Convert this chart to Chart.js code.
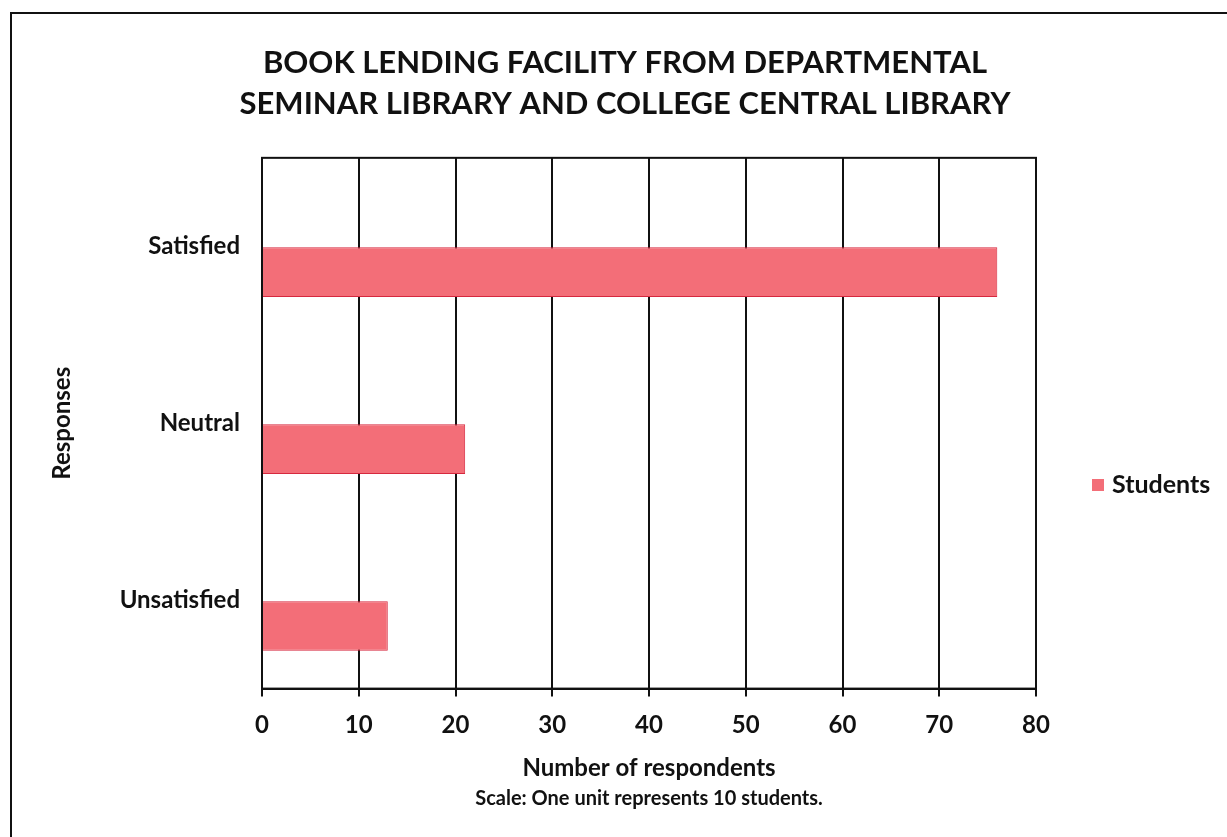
<!DOCTYPE html>
<html>
<head>
<meta charset="utf-8">
<script src="https://cdn.jsdelivr.net/npm/chart.js@4"></script>
<style>
    html, body { margin: 0; padding: 0; background: #fff; }
    #wrap { position: relative; width: 1227px; height: 837px; }
    #frame { position: absolute; left: 10px; top: 12px; width: 1240px; height: 840px;
             border-left: 2px solid #111; border-top: 2px solid #111; pointer-events: none; }
</style>
</head>
<body>
<div id="wrap">
    <canvas id="lendingChart" width="1227" height="837"></canvas>
    <div id="frame"></div>
</div>
<script>
// Book lending facility survey - horizontal bar chart

const responses = ['Satisfied', 'Neutral', 'Unsatisfied'];
const students = [76, 21, 13];
const seriesName = 'Students';
const xTicks = [0, 10, 20, 30, 40, 50, 60, 70, 80];

const FONT = 'Lato, "Open Sans", sans-serif';
const barFill = 'rgb(243, 110, 120)';
const barEdge = 'rgb(214, 40, 62)';

// draws the full box round the plot area
const plotBox = {
    id: 'plotBox',
    afterDatasetsDraw(chart) {
        const a = chart.chartArea;
        const ctx = chart.ctx;
        ctx.save();
        ctx.strokeStyle = '#111';
        ctx.lineWidth = 2;
        ctx.strokeRect(a.left, a.top, a.right - a.left, a.bottom - a.top);
        ctx.restore();
    }
};

// legend sits lower than chart centre in the original, so draw it by hand
const sideLegend = {
    id: 'sideLegend',
    afterDraw(chart) {
        const ctx = chart.ctx;
        const ds = chart.data.datasets.find(d => d.label === seriesName);
        const x = chart.chartArea.right + 56;
        const y = 485;
        ctx.save();
        ctx.fillStyle = ds.backgroundColor;
        ctx.fillRect(x, y - 6, 12, 12);
        ctx.fillStyle = '#111';
        ctx.font = 'bold 25px ' + FONT;
        ctx.textBaseline = 'middle';
        ctx.fillText(ds.label, x + 20, y);
        ctx.restore();
    }
};

const ctx = document.getElementById('lendingChart');
new Chart(ctx.getContext('2d'), {
    type: 'bar',
    data: {
        labels: responses,
        datasets: [
            {
                // empty spacer series: the original leaves an empty slot above each bar
                label: '',
                data: [],
                categoryPercentage: 0.585,
                barPercentage: 0.96
            },
            {
                label: seriesName,
                data: students,
                backgroundColor: barFill,
                borderColor: barEdge,
                borderWidth: 1,
                categoryPercentage: 0.585,
                barPercentage: 0.96
            }
        ]
    },
    options: {
        indexAxis: 'y',
        responsive: false,
        animation: false,
        layout: {
            padding: { left: 40, right: 17, top: 0, bottom: 26 }
        },
        scales: {
            x: {
                min: 0,
                max: 80,
                afterBuildTicks(scale) {
                    scale.ticks = xTicks.map(v => ({ value: v }));
                },
                grid: {
                    color: '#111',
                    lineWidth: 2,
                    tickLength: 8
                },
                border: { color: '#111', width: 2 },
                ticks: {
                    color: '#111',
                    padding: 17,
                    font: { family: FONT, size: 24, weight: 'bold', lineHeight: 1.0 }
                },
                title: {
                    display: true,
                    text: 'Number of respondents',
                    color: '#111',
                    padding: { top: 0, bottom: 6 },
                    font: { family: FONT, size: 24, weight: 'bold', lineHeight: 1.1 }
                }
            },
            y: {
                afterFit(scale) {
                    scale.width = 222;
                },
                grid: { display: false, drawTicks: false },
                border: { color: '#111', width: 2 },
                ticks: {
                    color: '#111',
                    padding: 22,
                    font: { family: FONT, size: 24, weight: 'bold' }
                },
                title: {
                    display: true,
                    text: 'Responses',
                    color: '#111',
                    padding: { top: 8, bottom: 0 },
                    font: { family: FONT, size: 24, weight: 'bold' }
                }
            },
            // keeps room on the right for the legend
            yRoom: {
                type: 'category',
                position: 'right',
                afterFit(scale) {
                    scale.width = 174;
                },
                grid: { display: false },
                border: { display: false },
                ticks: { display: false }
            }
        },
        plugins: {
            legend: { display: false },
            tooltip: { enabled: false },
            title: {
                display: true,
                text: ['BOOK LENDING FACILITY FROM DEPARTMENTAL', 'SEMINAR LIBRARY AND COLLEGE CENTRAL LIBRARY'],
                color: '#111',
                padding: { top: 43, bottom: 33 },
                font: { family: FONT, size: 31, weight: 'bold', lineHeight: 1.32 }
            },
            subtitle: {
                display: true,
                position: 'bottom',
                fullSize: false,
                text: 'Scale: One unit represents 10 students.',
                color: '#111',
                padding: 0,
                font: { family: FONT, size: 20, weight: 'bold' }
            }
        }
    },
    plugins: [plotBox, sideLegend]
});
</script>
</body>
</html>
